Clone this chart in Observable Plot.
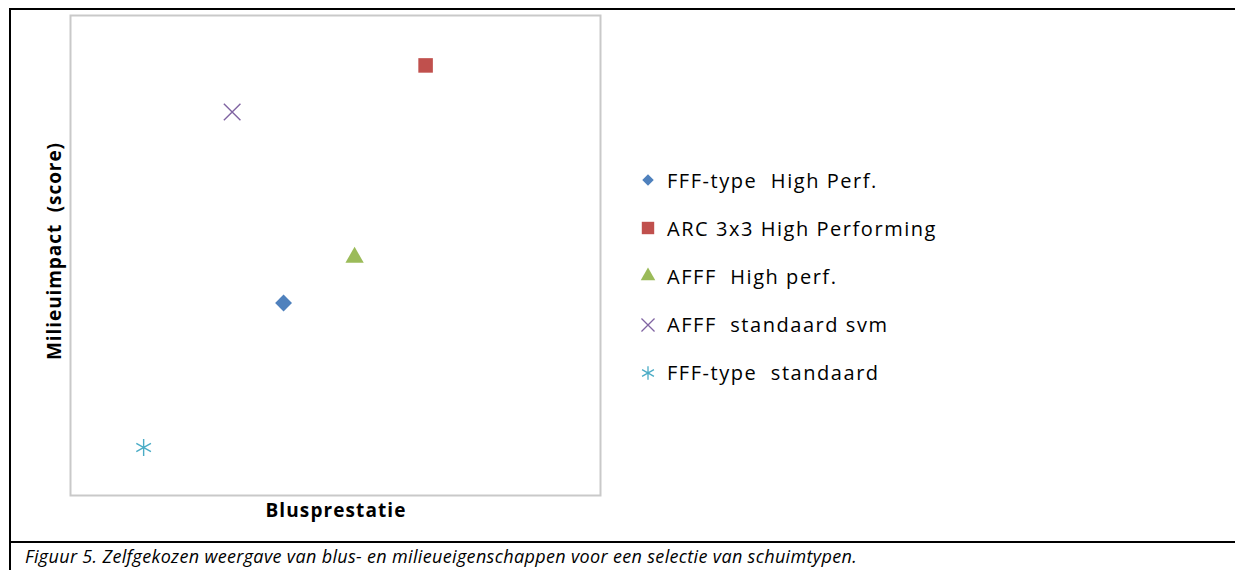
<!DOCTYPE html>
<html><head><meta charset="utf-8">
<script src="https://cdn.jsdelivr.net/npm/d3@7"></script>
<script src="https://cdn.jsdelivr.net/npm/@observablehq/plot@0.6"></script>
<style>
html,body{margin:0;padding:0;background:#fff;}
#wrap{position:relative;width:1235px;height:570px;overflow:hidden;font-family:"Open Sans",sans-serif;background:#fff;}
#wrap svg.chart{position:absolute;left:0;top:0;}
.line{position:absolute;background:#000;}
#legend{position:absolute;left:638px;top:156px;}
.row{height:48.2px;display:flex;align-items:center;font-size:20px;color:#000;white-space:pre;}
.row svg{width:20px;height:20px;margin-right:9px;flex:none;}
#caption{position:absolute;left:25px;top:543px;font-style:italic;font-size:18px;line-height:26px;color:#000;white-space:pre;}
</style></head>
<body><div id="wrap"></div>
<script>
// ---- data ----
const series = ["FFF-type  High Perf.", "ARC 3x3 High Performing", "AFFF  High perf.", "AFFF  standaard svm", "FFF-type  standaard"];
const blusprestatie = [4.02, 6.70, 5.36, 3.05, 1.38];
const milieuimpact = [4.01, 8.96, 4.96, 7.99, 1.0];
const xLabel = "Blusprestatie";
const yLabel = "Milieuimpact\u00a0 (score)";
const caption = "Figuur 5. Zelfgekozen weergave van blus- en milieueigenschappen voor een selectie van schuimtypen.";

// ---- styles ----
const palette = ["#4F81BD", "#C0504D", "#9BBB59", "#8064A2", "#4BACC6"];
const symbolNames = ["diamond2", "square", "triangle", "times", "asterisk"];
const filledSymbols = new Set(["diamond2", "square", "triangle"]);
const symbolR = {diamond2: 7.6, square: 8.2, triangle: 6.8, times: 7.6, asterisk: 8.0};
const legendR = {diamond2: 5.2, square: 7.0, triangle: 5.4, times: 6.0, asterisk: 6.5};
const d3Symbols = {diamond2: d3.symbolDiamond2, square: d3.symbolSquare, triangle: d3.symbolTriangle, times: d3.symbolTimes, asterisk: d3.symbolAsterisk};

const rows = series.map((name, i) => ({name, x: blusprestatie[i], y: milieuimpact[i], sym: symbolNames[i]}));
const filled = rows.filter(d => filledSymbols.has(d.sym));
const stroked = rows.filter(d => !filledSymbols.has(d.sym));

const chart = Plot.plot({
  width: 1235, height: 570,
  marginLeft: 70, marginRight: 635, marginTop: 15, marginBottom: 75,
  x: {domain: [0, 10], axis: null},
  y: {domain: [0, 10], axis: null},
  color: {domain: series, range: palette},
  symbol: {domain: series, range: symbolNames},
  r: {type: "identity"},
  style: {fontFamily: "'Open Sans', sans-serif", background: "transparent", overflow: "visible"},
  marks: [
    Plot.frame({stroke: "#c9c9c9", strokeWidth: 2}),
    Plot.dot(filled, {x: "x", y: "y", symbol: "name", fill: "name", stroke: "none", r: d => symbolR[d.sym]}),
    Plot.dot(stroked, {x: "x", y: "y", symbol: "name", stroke: "name", fill: "none", strokeWidth: 1.4, r: d => symbolR[d.sym]}),
    Plot.text([xLabel], {text: d => d, frameAnchor: "bottom", textAnchor: "middle", dy: 21, fontWeight: "bold", fontSize: 19, fill: "#000"}),
    Plot.text([yLabel], {text: d => d, frameAnchor: "left", textAnchor: "middle", dx: -16, dy: -4, rotate: -90, fontWeight: "bold", fontSize: 19, fill: "#000"})
  ]
});
chart.classList.add("chart");
const wrap = document.getElementById("wrap");
wrap.appendChild(chart);

// outer figure lines
function line(l, t, w, h) { const d = document.createElement("div"); d.className = "line"; Object.assign(d.style, {left: l + "px", top: t + "px", width: w + "px", height: h + "px"}); wrap.appendChild(d); }
line(9, 8, 1226, 2);
line(9, 8, 2, 562);
line(9, 541, 1226, 2);

// legend
const legend = document.createElement("div");
legend.id = "legend";
rows.forEach((d, i) => {
  const row = document.createElement("div");
  row.className = "row";
  const s = d3.create("svg").attr("viewBox", "-10 -10 20 20");
  const size = Math.PI * legendR[d.sym] ** 2;
  const p = s.append("path").attr("d", d3.symbol(d3Symbols[d.sym], size)());
  if (filledSymbols.has(d.sym)) p.attr("fill", palette[i]); else p.attr("fill", "none").attr("stroke", palette[i]).attr("stroke-width", 1.3);
  row.appendChild(s.node());
  const t = document.createElement("span");
  t.textContent = d.name;
  row.appendChild(t);
  legend.appendChild(row);
});
wrap.appendChild(legend);

// caption
const cap = document.createElement("div");
cap.id = "caption";
cap.textContent = caption;
wrap.appendChild(cap);

// fit text widths to the reference
function fitSpan(el, target) {
  const w = el.getBoundingClientRect().width;
  const n = el.textContent.length;
  return (target - w) / n;
}
const spans = legend.querySelectorAll("span");
const ls = fitSpan(spans[1], 270);
spans.forEach(s => s.style.letterSpacing = ls + "px");
cap.style.letterSpacing = fitSpan(cap, 832) + "px";

d3.select(chart).selectAll("text").each(function() {
  const txt = this.textContent;
  if (txt === xLabel) d3.select(this).attr("textLength", 140).attr("lengthAdjust", "spacing");
  if (txt === yLabel) d3.select(this).attr("textLength", 217).attr("lengthAdjust", "spacing");
});
</script>
</body></html>
